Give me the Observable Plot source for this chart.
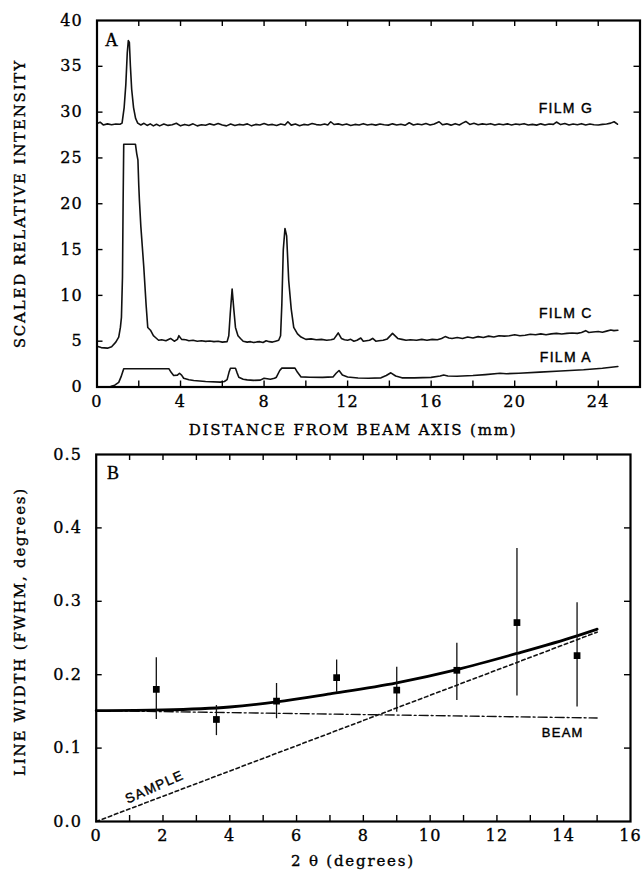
<!DOCTYPE html>
<html><head><meta charset="utf-8">
<script src="https://cdn.jsdelivr.net/npm/d3@7"></script>
<script src="https://cdn.jsdelivr.net/npm/@observablehq/plot@0.6"></script>
<style>
body{margin:0;background:#fff;}
#wrap{width:644px;height:873px;position:relative;overflow:hidden;}
#wrap svg{display:block;}
</style></head>
<body><div id="wrap"></div>
<script>
// ---------- Panel A data: [distance mm, scaled relative intensity] ----------
const filmG = [
[0,28.75],[0.15,28.9],[0.3,28.6],[0.5,28.72],[0.7,28.62],[0.9,28.7],[1.1,28.68],[1.2,28.8],[1.3,30.5],[1.38,33],[1.45,36.5],[1.5,37.8],[1.55,37.6],[1.6,35],[1.66,32.5],[1.75,30.5],[1.85,29.3],[1.95,28.8],
[2.1,28.6],[2.25,28.78],[2.4,28.55],[2.55,28.72],[2.7,28.5],[2.85,28.68],[3.0,28.5],[3.2,28.7],[3.4,28.55],[3.6,28.62],[3.8,28.78],[4.0,28.5],[4.2,28.66],[4.4,28.55],[4.6,28.72],[4.8,28.5],[5.0,28.62],[5.2,28.56],[5.4,28.72],[5.6,28.6],[5.8,28.76],[6.0,28.6],[6.2,28.5],[6.4,28.7],[6.6,28.55],[6.8,28.66],[7.0,28.6],[7.2,28.72],[7.4,28.5],[7.6,28.66],[7.8,28.6],[8.0,28.76],[8.2,28.6],[8.4,28.66],[8.6,28.55],[8.8,28.7],[9.0,28.6],[9.14,28.95],[9.3,28.58],[9.5,28.7],[9.7,28.52],[9.9,28.66],[10.1,28.6],[10.3,28.76],[10.5,28.64],[10.7,28.6],[10.9,28.7],[11.05,28.6],[11.19,28.95],[11.35,28.65],[11.55,28.72],[11.75,28.6],[11.95,28.7],[12.15,28.55],[12.35,28.66],[12.55,28.6],[12.75,28.74],[12.95,28.6],[13.15,28.68],[13.35,28.58],[13.55,28.7],[13.75,28.62],[13.95,28.58],[14.15,28.72],[14.35,28.6],[14.55,28.68],[14.75,28.56],[14.95,28.84],[15.15,28.6],[15.35,28.7],[15.55,28.62],[15.75,28.76],[15.95,28.6],[16.15,28.7],[16.38,28.95],[16.55,28.62],[16.75,28.72],[16.95,28.58],[17.15,28.74],[17.35,28.6],[17.5,28.8],[17.66,28.98],[17.85,28.66],[18.05,28.78],[18.25,28.62],[18.45,28.72],[18.65,28.64],[18.85,28.74],[19.05,28.6],[19.25,28.7],[19.45,28.62],[19.65,28.72],[19.85,28.6],[20.05,28.7],[20.25,28.64],[20.45,28.74],[20.65,28.6],[20.85,28.66],[21.05,28.58],[21.25,28.72],[21.45,28.6],[21.65,28.7],[21.85,28.66],[22.0,28.92],[22.2,28.64],[22.4,28.76],[22.6,28.6],[22.8,28.7],[23.0,28.62],[23.2,28.74],[23.4,28.6],[23.6,28.7],[23.8,28.62],[24.0,28.6],[24.2,28.66],[24.4,28.7],[24.6,28.8],[24.76,28.95],[24.92,28.68]
];
const filmC = [
[0,4.46],[0.2,4.3],[0.5,4.24],[0.7,4.4],[0.9,4.9],[1.04,5.44],[1.12,6.5],[1.17,7.6],[1.22,12],[1.25,20],[1.28,26.5],[1.84,26.5],[1.9,25.5],[1.96,24.75],[2.0,22],[2.03,20.4],[2.1,17.5],[2.24,13.1],[2.35,9],[2.43,6.5],[2.56,6.2],[2.7,5.6],[2.8,5.4],[2.95,5.1],[3.1,5.15],[3.3,5.05],[3.52,5.3],[3.7,5.0],[3.85,5.2],[3.92,5.6],[4.05,5.2],[4.25,5.15],[4.4,5.05],[4.6,5.1],[4.8,5.0],[5.0,5.05],[5.2,4.98],[5.4,5.02],[5.6,4.95],[5.8,5.0],[6.0,4.9],[6.23,4.95],[6.31,5.6],[6.38,8],[6.47,10.7],[6.55,8.5],[6.63,6.5],[6.75,5.6],[6.87,5.3],[7.0,5.0],[7.19,4.9],[7.35,4.95],[7.5,4.85],[7.65,4.92],[7.8,4.95],[7.95,4.85],[8.1,5.05],[8.25,4.95],[8.4,4.9],[8.55,5.0],[8.7,5.1],[8.79,5.6],[8.85,9],[8.92,15],[9.0,17.3],[9.08,16.5],[9.18,11.6],[9.3,8.5],[9.42,6.5],[9.6,5.8],[9.77,5.45],[10.0,5.2],[10.25,5.25],[10.5,5.15],[10.75,5.2],[11.0,5.1],[11.2,5.15],[11.35,5.25],[11.55,5.9],[11.7,5.3],[11.85,5.15],[12.0,5.1],[12.15,5.2],[12.3,5.0],[12.45,5.1],[12.63,5.35],[12.75,5.0],[12.9,5.05],[13.05,5.1],[13.2,5.3],[13.35,5.0],[13.5,5.05],[13.7,5.1],[13.9,5.25],[14.15,5.85],[14.4,5.3],[14.6,5.2],[14.8,5.1],[15.0,5.15],[15.3,5.1],[15.55,5.2],[15.8,5.1],[16.05,5.2],[16.3,5.15],[16.5,5.3],[16.67,5.5],[16.85,5.35],[17.0,5.3],[17.25,5.4],[17.5,5.3],[17.75,5.45],[18.0,5.35],[18.25,5.5],[18.5,5.4],[18.75,5.55],[19.0,5.45],[19.25,5.6],[19.5,5.55],[19.75,5.6],[20.0,5.7],[20.25,5.6],[20.5,5.65],[20.75,5.75],[21.0,5.7],[21.25,5.8],[21.5,5.7],[21.75,5.8],[22.0,5.85],[22.25,5.78],[22.5,5.85],[22.75,5.9],[23.0,5.85],[23.2,5.95],[23.4,6.15],[23.55,5.95],[23.75,6.0],[24.0,6.05],[24.2,5.98],[24.4,6.1],[24.6,6.22],[24.75,6.15],[24.94,6.2]
];
const filmA = [
[0,0],[0.65,0.05],[0.85,0.2],[1.04,0.5],[1.15,1.1],[1.28,2.0],[3.44,2.0],[3.55,1.6],[3.67,1.26],[3.85,1.3],[3.95,1.5],[4.05,1.3],[4.15,0.95],[4.4,0.8],[4.63,0.71],[5.2,0.6],[5.9,0.53],[6.1,0.6],[6.23,0.8],[6.32,1.6],[6.39,2.05],[6.63,2.05],[6.7,1.6],[6.79,1.07],[7.0,0.85],[7.19,0.78],[7.5,0.72],[7.82,0.75],[8.0,0.95],[8.3,0.85],[8.5,0.95],[8.59,1.07],[8.75,1.8],[8.85,2.06],[9.48,2.06],[9.6,1.6],[9.77,1.1],[10.2,1.07],[10.8,1.05],[11.3,1.1],[11.45,1.5],[11.59,1.8],[11.75,1.3],[12.0,1.1],[12.5,0.98],[13.0,0.96],[13.6,1.0],[13.85,1.25],[14.07,1.55],[14.3,1.2],[14.6,1.0],[15.2,1.0],[16.0,1.05],[16.43,1.2],[16.6,1.3],[16.8,1.2],[17.23,1.18],[18.0,1.25],[18.6,1.35],[19.3,1.5],[19.6,1.45],[20.2,1.5],[21.2,1.62],[22.2,1.75],[23.3,1.88],[24.2,2.05],[24.94,2.24]
];
const filmNames = ["FILM G", "FILM C", "FILM A"];
const filmLabelY = [30.4, 8.0, 3.2];

const xLabelsA = [0, 4, 8, 12, 16, 20, 24];
const xMinorA = [2, 4, 6, 8, 10, 12, 14, 16, 18, 20, 22, 24];
const yLabelsA = [0, 5, 10, 15, 20, 25, 30, 35, 40];
const yMinorA = [5, 10, 15, 20, 25, 30, 35];

// ---------- Panel B data ----------
const twoTheta = [1.8, 3.6, 5.4, 7.2, 9.0, 10.8, 12.6, 14.4];
const lineWidth = [0.180, 0.139, 0.164, 0.196, 0.179, 0.206, 0.271, 0.226];
const errLow = [0.139, 0.117, 0.140, 0.176, 0.149, 0.165, 0.171, 0.156];
const errHigh = [0.223, 0.158, 0.188, 0.220, 0.210, 0.243, 0.372, 0.298];
const fitX = [0, 2, 4, 5.4, 7, 9, 10.8, 12.6, 14.4, 15];
const fitTotal = [0.151, 0.152, 0.156, 0.163, 0.174, 0.189, 0.207, 0.229, 0.253, 0.262];
const beamX = [0, 15];
const beamW = [0.151, 0.141];
const sampleX = [0, 15];
const sampleW = [0, 0.258];

const xLabelsB = [0, 2, 4, 6, 8, 10, 12, 14, 16];
const xMinorB = [1, 2, 3, 4, 5, 6, 7, 8, 9, 10, 11, 12, 13, 14, 15];
const yLabelsB = [0, 0.1, 0.2, 0.3, 0.4, 0.5];
const yMinorB = [0.1, 0.2, 0.3, 0.4];

const SERIF = "DejaVu Serif";
const SANS = "Liberation Sans";
const baseStyle = {fontFamily: SERIF, fontSize: "15px", color: "#000", background: "#fff", overflow: "visible"};
const mid = {textAnchor: "middle", lineAnchor: "middle"};
const TICK = 6;

// inward tick marks on all four sides, drawn as frame-spanning rules with insets
function inwardTicks(xMinor, yMinor, plotW, plotH) {
  const st = {stroke: "#000", strokeWidth: 1.4};
  return [
    Plot.ruleX(xMinor, {x: d => d, insetTop: plotH - TICK, ...st}),
    Plot.ruleX(xMinor, {x: d => d, insetBottom: plotH - TICK, ...st}),
    Plot.ruleY(yMinor, {y: d => d, insetRight: plotW - TICK, ...st}),
    Plot.ruleY(yMinor, {y: d => d, insetLeft: plotW - TICK, ...st})
  ];
}

const A = {w: 644, h: 440, t: 20, r: 4.5, b: 53.5, l: 96.5};
const chartA = Plot.plot({
  width: A.w, height: A.h,
  marginTop: A.t, marginRight: A.r, marginBottom: A.b, marginLeft: A.l,
  x: {domain: [0, 26]},
  y: {domain: [0, 40]},
  style: baseStyle,
  marks: [
    Plot.line(filmA, {x: d => d[0], y: d => d[1], stroke: "#111", strokeWidth: 1.6}),
    Plot.line(filmC, {x: d => d[0], y: d => d[1], stroke: "#111", strokeWidth: 1.6}),
    Plot.line(filmG, {x: d => d[0], y: d => d[1], stroke: "#111", strokeWidth: 1.6}),
    ...inwardTicks(xMinorA, yMinorA, A.w - A.l - A.r, A.h - A.t - A.b),
    Plot.frame({stroke: "#000", strokeWidth: 2.2}),
    Plot.axisX(xLabelsA, {anchor: "bottom", tickSize: 0, tickPadding: 9, label: null, fontSize: 16}),
    Plot.axisY(yLabelsA, {anchor: "left", tickSize: 0, tickPadding: 14, label: null, fontSize: 16}),
    Plot.text(filmNames, {x: 22.45, y: (d, i) => filmLabelY[i], text: d => d, fontFamily: SANS, fontSize: 14}),
    Plot.text(["A"], {frameAnchor: "top-left", dx: 15.2, dy: 20, text: d => d, fontFamily: "Liberation Serif", fontSize: 18, ...mid}),
    Plot.text(["SCALED RELATIVE INTENSITY"], {frameAnchor: "left", dx: -77, rotate: -90, text: d => d, ...mid}),
    Plot.text(["DISTANCE FROM BEAM AXIS (mm)"], {frameAnchor: "bottom", dx: -15.5, dy: 43.5, text: d => d, ...mid})
  ]
});

const pts = twoTheta.map((x, i) => ({x, y: lineWidth[i], lo: errLow[i], hi: errHigh[i]}));
const fit = fitX.map((x, i) => ({x, y: fitTotal[i]}));
const beam = beamX.map((x, i) => ({x, y: beamW[i]}));
const sample = sampleX.map((x, i) => ({x, y: sampleW[i]}));

const B = {w: 644, h: 433, t: 14, r: 14, b: 52, l: 95.7};
const chartB = Plot.plot({
  width: B.w, height: B.h,
  marginTop: B.t, marginRight: B.r, marginBottom: B.b, marginLeft: B.l,
  x: {domain: [0, 16]},
  y: {domain: [0, 0.5]},
  style: baseStyle,
  marks: [
    Plot.line(sample, {x: "x", y: "y", stroke: "#111", strokeWidth: 1.6, strokeDasharray: "3.5,3"}),
    Plot.line(beam, {x: "x", y: "y", stroke: "#111", strokeWidth: 1.4, strokeDasharray: "9,3,2,3"}),
    Plot.line(fit, {x: "x", y: "y", stroke: "#000", strokeWidth: 2.8, curve: "monotone-x"}),
    Plot.ruleX(pts, {x: "x", y1: "lo", y2: "hi", stroke: "#111", strokeWidth: 1.3}),
    Plot.dot(pts, {x: "x", y: "y", symbol: "square", r: 3.8, fill: "#000", stroke: null}),
    ...inwardTicks(xMinorB, yMinorB, B.w - B.l - B.r, B.h - B.t - B.b),
    Plot.frame({stroke: "#000", strokeWidth: 2.2}),
    Plot.axisX(xLabelsB, {anchor: "bottom", tickSize: 0, tickPadding: 8, label: null, fontSize: 16}),
    Plot.axisY(yLabelsB, {anchor: "left", tickSize: 0, tickPadding: 14, label: null, fontSize: 16, tickFormat: d3.format(".1f")}),
    Plot.text(["BEAM"], {x: 13.97, y: 0.1205, text: d => d, fontFamily: SANS, fontSize: 13}),
    Plot.text(["SAMPLE"], {x: 1.75, y: 0.047, rotate: -24, text: d => d, fontFamily: SANS, fontSize: 13.5}),
    Plot.text(["B"], {frameAnchor: "top-left", dx: 17.3, dy: 19, text: d => d, fontFamily: "Liberation Serif", fontSize: 18, ...mid}),
    Plot.text(["LINE WIDTH (FWHM, degrees)"], {frameAnchor: "left", dx: -76.5, dy: -6.5, rotate: -90, text: d => d, ...mid}),
    Plot.text(["2 \u03B8 (degrees)"], {frameAnchor: "bottom", dx: -10.4, dy: 40, text: d => d, ...mid})
  ]
});

const wrap = document.getElementById("wrap");
wrap.appendChild(chartA);
wrap.appendChild(chartB);

// letter spacing and slight weight tweaks to mimic the printed type
for (const svg of [chartA, chartB]) {
  const all = d3.select(svg).selectAll("text");
  all.style("letter-spacing", "1.2px").style("stroke", "#000").style("stroke-width", "0.35px");
  d3.select(svg).selectAll(`g[font-family="${SANS}"] text`).style("letter-spacing", "1.3px").style("stroke-width", "0.4px");
  all.filter(function() {
    const t = this.textContent;
    return t.length > 10 && !/FILM|SAMPLE/.test(t);
  }).style("letter-spacing", "1.8px");
}
</script>
</body></html>
